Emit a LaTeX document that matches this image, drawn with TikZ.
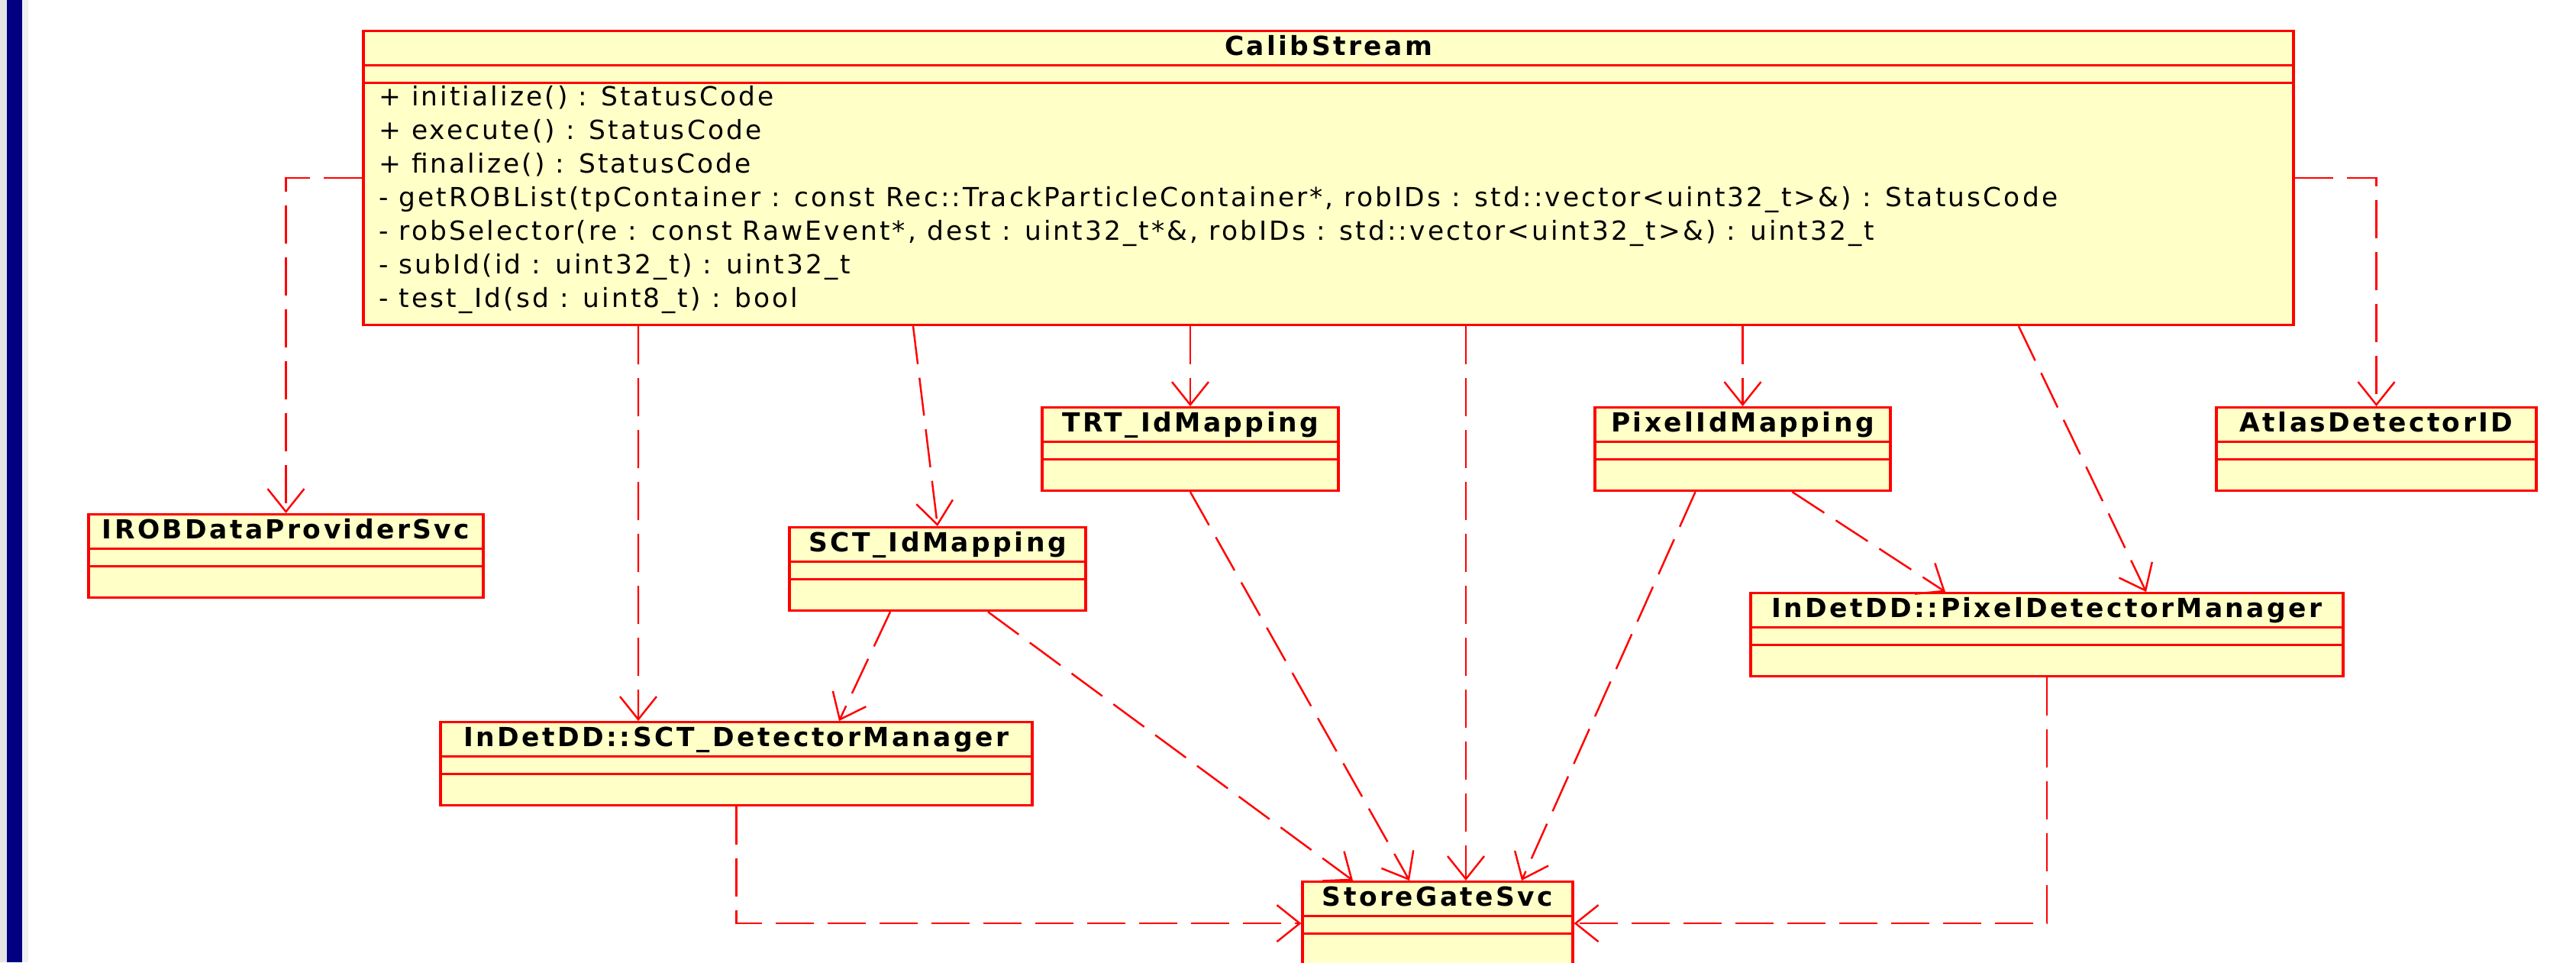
\documentclass[tikz,border=0pt]{standalone}
\usepackage{fontspec}
\setmainfont{DejaVu Sans}[LetterSpace=9, BoldFeatures={LetterSpace=10}]
\usetikzlibrary{arrows.meta}
\usetikzlibrary{calc}
\definecolor{umlfill}{RGB}{255,255,200}
\definecolor{umlred}{RGB}{255,0,0}
\definecolor{barblue}{RGB}{0,0,128}

\begin{document}
\begin{tikzpicture}[
    >={Straight Barb[length = 3mm, width = 4.8mm]},
    umlclass/.style = {
      draw = umlred, fill = umlfill, line width = 0.9pt,
      inner sep = 0pt, anchor = north,
      text height = 3.2mm, text depth = 7.7mm,
      font = \fontsize{9.8}{12.5}\selectfont\bfseries,
      path picture = {
        \draw[umlred, line width = 0.7pt]
          ([yshift = -4.5mm]path picture bounding box.north west) --
          ([yshift = -4.5mm]path picture bounding box.north east)
          ([yshift = -6.8mm]path picture bounding box.north west) --
          ([yshift = -6.8mm]path picture bounding box.north east);
      },
    },
    ops/.style = {
      align = left, anchor = north west, inner sep = 0pt,
      font = \fontsize{9.8}{12.5}\selectfont,
    },
    dep/.style = {
      umlred, line width = 0.7pt, ->,
      dash pattern = on 5mm off 1.8mm,
    },
  ]

  \useasboundingbox (0,0) rectangle (33.74,-12.60);

  \fill[gray!20] (0,0) rectangle (0.09,-12.60);
  \fill[barblue] (0.09,0) rectangle (0.29,-12.60);
  \fill[gray!12] (0.29,0) rectangle (0.37,-12.60);

  \node[umlclass, minimum width = 25.28cm, text depth = 35.3mm]
    (calib) at (17.40,-0.39) {CalibStream};
  \node[ops] (calibops) at ($(calib.north west)+(0.21,-0.727)$) {%
    + initialize() : StatusCode\\
    + execute() : StatusCode\\
    + finalize() : StatusCode\\
    - getROBList(tpContainer : const Rec::TrackParticleContainer*, robIDs : std::vector<uint32\_t>\&) : StatusCode\\
    - robSelector(re : const RawEvent*, dest : uint32\_t*\&, robIDs : std::vector<uint32\_t>\&) : uint32\_t\\
    - subId(id : uint32\_t) : uint32\_t\\
    - test\_Id(sd : uint8\_t) : bool};

  \node[umlclass, minimum width = 5.17cm] (irob) at (3.745,-6.72) {IROBDataProviderSvc};
  \node[umlclass, minimum width = 3.88cm] (trtmap) at (15.59,-5.32) {TRT\_IdMapping};
  \node[umlclass, minimum width = 3.87cm] (pixmap) at (22.825,-5.32) {PixelIdMapping};
  \node[umlclass, minimum width = 4.19cm] (atlasid) at (31.125,-5.32) {AtlasDetectorID};
  \node[umlclass, minimum width = 3.88cm] (sctmap) at (12.28,-6.89) {SCT\_IdMapping};
  \node[umlclass, minimum width = 7.76cm] (pixdet) at (26.81,-7.75) {InDetDD::PixelDetectorManager};
  \node[umlclass, minimum width = 7.75cm] (sctdet) at (9.645,-9.44) {InDetDD::SCT\_DetectorManager};
  \node[umlclass, minimum width = 3.54cm] (storegate) at (18.83,-11.53) {StoreGateSvc};

  \draw[dep] (calib.west) -| (irob.north);
  \draw[dep] ($(calib.south)+(-9.04,0)$) -- ($(sctdet.north)+(-1.285,0)$);
  \draw[dep] ($(calib.south)+(-5.44,0)$) -- (sctmap.north);
  \draw[dep] (calib.south -| trtmap.north) -- (trtmap.north);
  \draw[dep] ($(calib.south)+(1.80,0)$) -- ($(storegate.north)+(0.37,0)$);
  \draw[dep] (calib.south -| pixmap.north) -- (pixmap.north);
  \draw[dep] ($(calib.south)+(9.04,0)$) -- ($(pixdet.north)+(1.30,0)$);
  \draw[dep] (calib.east) -| (atlasid.north);

  \draw[dep] ($(sctmap.south)+(-0.62,0)$) -- ($(sctdet.north)+(1.345,0)$);
  \draw[dep] ($(sctmap.south)+(0.66,0)$) -- ($(storegate.north)+(-1.11,0)$);
  \draw[dep] (trtmap.south) -- ($(storegate.north)+(-0.37,0)$);
  \draw[dep] ($(pixmap.south)+(-0.62,0)$) -- ($(storegate.north)+(1.10,0)$);
  \draw[dep] ($(pixmap.south)+(0.65,0)$) -- ($(pixdet.north)+(-1.33,0)$);

  \draw[dep] (sctdet.south) |- (storegate.west);
  \draw[dep] (pixdet.south) |- (storegate.east);
\end{tikzpicture}
\end{document}
